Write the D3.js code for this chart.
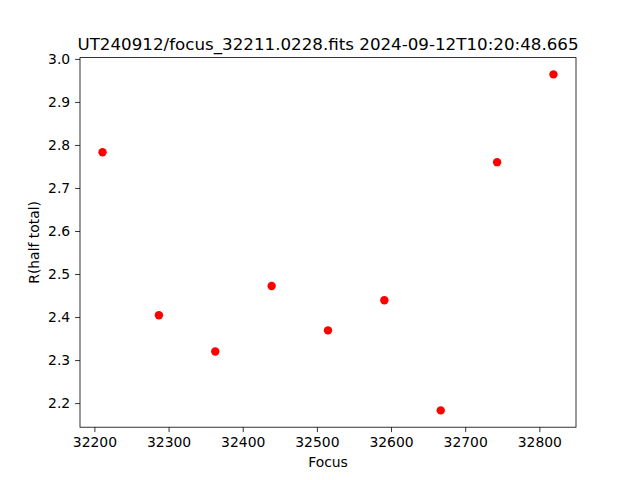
<!DOCTYPE html>
<html><head><meta charset="utf-8">
<script src="https://cdn.jsdelivr.net/npm/d3@7"></script>
<style>body{margin:0;background:#fff}svg{display:block}text{font-family:"DejaVu Sans",sans-serif;fill:#000}</style>
</head><body>
<script>
const focusValues = [32211, 32287, 32363, 32439, 32515, 32591, 32667, 32743, 32819];
const rHalfTotal = [2.783, 2.404, 2.320, 2.472, 2.369, 2.439, 2.183, 2.760, 2.964];
const xTicks = [32200, 32300, 32400, 32500, 32600, 32700, 32800];
const yTicks = [2.2, 2.3, 2.4, 2.5, 2.6, 2.7, 2.8, 2.9, 3.0];
const titleText = "UT240912/focus_32211.0228.fits 2024-09-12T10:20:48.665";
const xLabel = "Focus";
const yLabel = "R(half total)";

const W = 640, H = 480;
const L = 80, R = 576, T = 57.6, B = 427.2;
const svg = d3.select("body").append("svg").attr("width", W).attr("height", H);

function pad(ext){const s=ext[1]-ext[0];return [ext[0]-0.05*s, ext[1]+0.05*s];}
const x = d3.scaleLinear().domain(pad(d3.extent(focusValues))).range([L, R]);
const y = d3.scaleLinear().domain(pad(d3.extent(rHalfTotal))).range([B, T]);

const xAxis = svg.append("g").attr("transform", `translate(0,${B})`)
  .call(d3.axisBottom(x).tickValues(xTicks).tickFormat(d3.format("d")).tickSize(4.9).tickPadding(4.9));
const yAxis = svg.append("g").attr("transform", `translate(${L},0)`)
  .call(d3.axisLeft(y).tickValues(yTicks).tickFormat(d3.format(".1f")).tickSize(4.9).tickPadding(4.9));
[xAxis, yAxis].forEach(g => {
  g.select(".domain").remove();
  g.selectAll(".tick line").attr("stroke", "#000").attr("stroke-width", 0.8);
  g.selectAll(".tick text").style("font-size", "13.9px").attr("fill", "#000");
});

svg.append("rect").attr("x", L).attr("y", T).attr("width", R - L).attr("height", B - T)
  .attr("fill", "none").attr("stroke", "#000").attr("stroke-width", 0.8);

svg.append("g").selectAll("circle").data(focusValues).join("circle")
  .attr("cx", d => x(d)).attr("cy", (d, i) => y(rHalfTotal[i])).attr("r", 4.2).attr("fill", "#ff0000");

svg.append("text").attr("x", (L + R) / 2).attr("y", T - 8).attr("text-anchor", "middle")
  .style("font-size", "16.7px").text(titleText);
svg.append("text").attr("x", (L + R) / 2).attr("y", 467).attr("text-anchor", "middle")
  .style("font-size", "13.9px").text(xLabel);
svg.append("text").attr("transform", `translate(39,${(T + B) / 2}) rotate(-90)`).attr("text-anchor", "middle")
  .style("font-size", "13.9px").text(yLabel);
</script>
</body></html>
